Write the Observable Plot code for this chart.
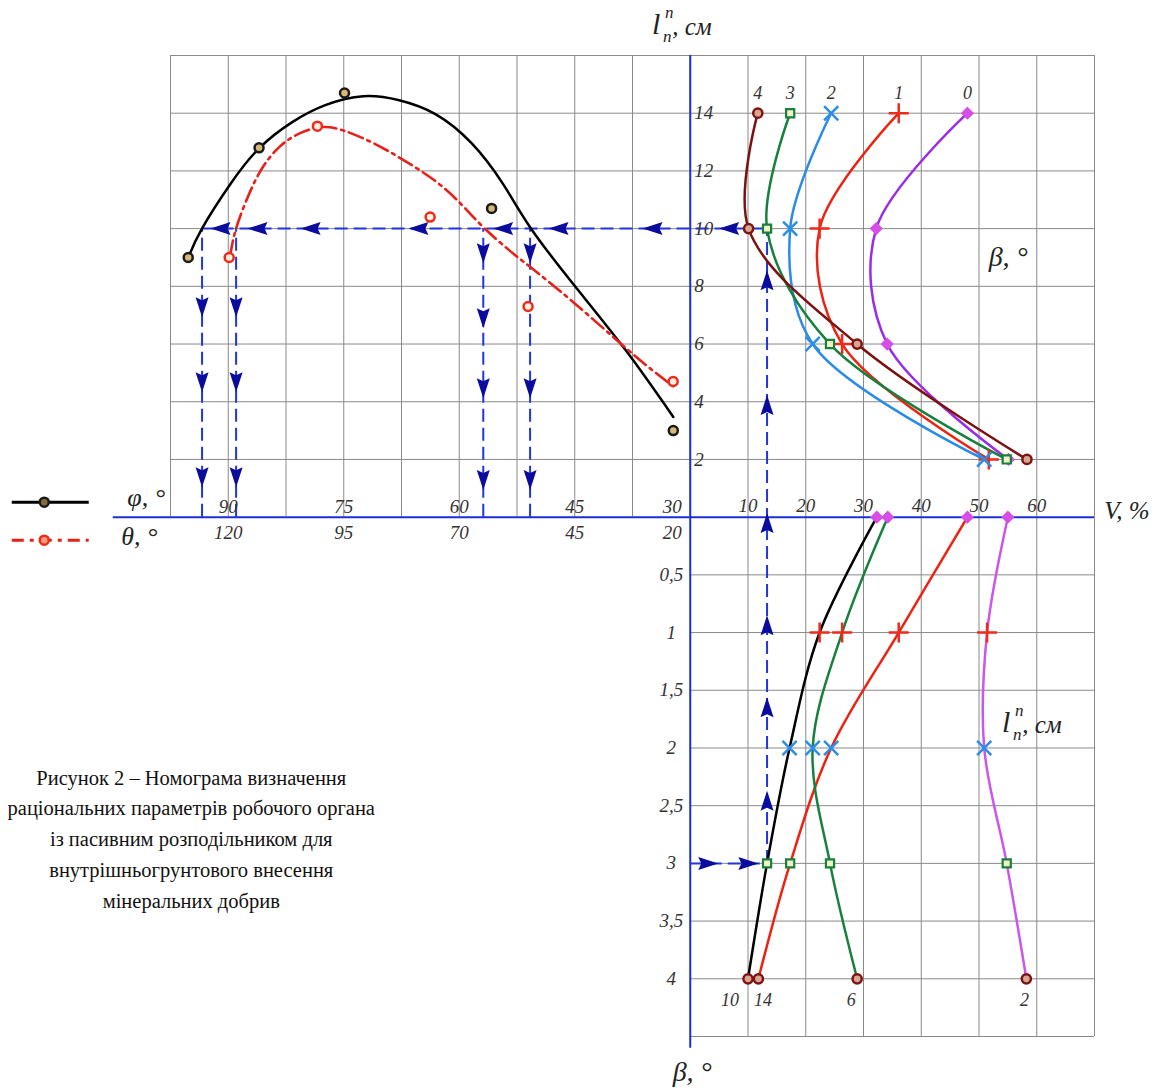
<!DOCTYPE html>
<html><head><meta charset="utf-8">
<script src="https://cdn.jsdelivr.net/npm/d3@7"></script>
<script src="https://cdn.jsdelivr.net/npm/@observablehq/plot@0.6"></script>
<style>body{margin:0;background:#fff} #chart{width:1168px;height:1090px}</style>
</head><body><div id="chart"></div>
<script>
// ---------- DATA ----------
const phiTicks = [90, 75, 60, 45, 30];
const thetaTicks = [120, 95, 70, 45, 20];
const vTicks = [10, 20, 30, 40, 50, 60];
const lUpperTicks = [2, 4, 6, 8, 10, 12, 14];
const lLowerTicks = [0.5, 1, 1.5, 2, 2.5, 3, 3.5, 4];
const lLowerTickLabels = ["0,5", "1", "1,5", "2", "2,5", "3", "3,5", "4"];

// upper-left: experimental points
const phiPointPhi = [95.2, 86.0, 74.9, 55.8, 32.2];
const phiPointL   = [9.0, 12.8, 14.7, 10.7, 3.0];
const thetaPointTheta = [119.8, 100.7, 76.3, 55.1, 23.7];
const thetaPointL     = [9.0, 13.55, 10.4, 7.3, 4.7];
// upper-left: fitted curves
const phiCurvePhi = [95.07, 93.38, 89.74, 85.97, 81.69, 77.40, 72.47, 67.8, 63.1, 58.4, 54.3, 50.8, 45.2, 38.4, 32.2];
const phiCurveL   = [9.08, 10.02, 11.54, 12.79, 13.69, 14.28, 14.59, 14.45, 13.97, 12.96, 11.54, 10.05, 8.08, 5.79, 3.47];
const thetaCurveTheta = [119.57, 118.27, 115.67, 112.64, 108.74, 104.42, 99.65, 94.68, 88.18, 81.69, 75.19, 69.78, 64.80, 58.96, 54.63, 45.32, 33.64, 27.14, 23.68];
const thetaCurveL     = [9.08, 10.02, 11.13, 12.10, 12.86, 13.31, 13.52, 13.38, 12.93, 12.34, 11.65, 10.88, 10.05, 9.22, 8.67, 7.45, 5.82, 4.96, 4.54];

// upper-right: V (%) at l = 14, 10, 6, 2 for curves 0..4
const curveLabels = ["0", "1", "2", "3", "4"];
const lLevels = [14, 10, 6, 2];
const vCurve0 = [48.0, 32.2, 34.1, 55.1];
const vCurve1 = [36.1, 22.4, 26.3, 51.7];
const vCurve2 = [24.4, 17.3, 21.2, 50.9];
const vCurve3 = [17.3, 13.3, 24.2, 54.8];
const vCurve4 = [11.7, 10.1, 28.9, 58.3];

// lower-right: V (%) at lower scale 0..4 for beta = 10, 14, 6, 2
const betaLabels = ["10", "14", "6", "2"];
const lLowerLevels = [0, 1, 2, 3, 4];
const vBeta10 = [32.3, 22.4, 17.2, 13.3, 10.0];
const vBeta14 = [48.0, 36.1, 24.4, 17.3, 11.8];
const vBeta6  = [34.2, 26.3, 21.2, 24.2, 28.9];
const vBeta2  = [55.0, 51.4, 50.9, 54.8, 58.2];

// guide (blue dashed) construction
const guideL = 10, guideV = 13.3, guideLowerL = 3;
const guidePhi = [93.4, 50.8];
const guideTheta = [118.3, 64.8];
const arrowLeftPhi = [92.3, 87.5, 80.6, 66.6, 55.6, 48.4, 36.2];
const arrowLeftV = [5.0];
const arrowDownA = [6.93, 4.33, 1.04];
const arrowDownB = [8.8, 6.55, 4.12, 0.94];
const arrowDownC = [8.8, 4.12, 0.94];
const arrowUpUpper = [8.56, 4.23, 0.14];
const arrowUpLower = [0.85, 1.56, 2.37];
const arrowRightV = [4.85, 11.8];

const caption = "Рисунок 2 – Номограма визначення\nраціональних параметрів робочого органа\nіз пасивним розподільником для\nвнутрішньогрунтового внесення\nмінеральних добрив";

// ---------- SCALE HELPERS (grid-cell frame) ----------
const cx = {phi: p => (30 - p) / 7.5, theta: t => (20 - t) / 12.5, v: v => v / 10};
const cyU = l => l / 2, cyL = l => -2 * l;
const px = x => (x - 690) / 57.75, py = y => (517 - y) / 57.7;

const arrow = (dx, dy) => ({draw(ctx) {
  const L = 20, W = 6.5, nx = -dy, ny = dx;
  ctx.moveTo(0, 0);
  ctx.lineTo(-dx * L + nx * W, -dy * L + ny * W);
  ctx.lineTo(-dx * L * 0.85, -dy * L * 0.85);
  ctx.lineTo(-dx * L - nx * W, -dy * L - ny * W);
  ctx.closePath();
}});
const aDown = arrow(0, 1), aUp = arrow(0, -1), aLeft = arrow(-1, 0), aRight = arrow(1, 0);

const GRID = "#8a8a8a", AXIS = "#1c2fd6", GUIDE = "#2036e0", ARROW = "#0b0b9e";
const guideDash = "13,6";
const it = {fontStyle: "italic", fontFamily: "Liberation Serif", fill: "#333"};

const upperCurves = [vCurve0, vCurve1, vCurve2, vCurve3, vCurve4];
const upperColors = ["#9a2be6", "#ee2211", "#2b8ce8", "#17803d", "#7b1111"];
const markers = [
  {symbol: "diamond2", fill: "#d64ee6", stroke: "#d64ee6", r: 5, strokeWidth: 1.5},
  {symbol: "plus", fill: "none", stroke: "#ee2a1a", r: 6.5, strokeWidth: 2.5},
  {symbol: "times", fill: "none", stroke: "#2a8ee8", r: 6.5, strokeWidth: 2.5},
  {symbol: "square", fill: "#f4f1c8", stroke: "#17803d", r: 4.6, strokeWidth: 2.2},
  {symbol: "circle", fill: "#d8a690", stroke: "#7d1414", r: 4.6, strokeWidth: 2.5}
];
const lowerCurves = [vBeta10, vBeta14, vBeta6, vBeta2];
const lowerColors = ["#000000", "#ee2211", "#17803d", "#cc55ee"];
const betaLabelShift = [-0.31, 0.08, -0.1, -0.03];

const marks = [];
// grid
marks.push(
  Plot.ruleX(d3.range(-9, 8), {y1: 0, y2: 8, stroke: GRID, strokeWidth: 1}),
  Plot.ruleY(d3.range(1, 9), {x1: -9, x2: 7, stroke: GRID, strokeWidth: 1}),
  Plot.ruleX(d3.range(1, 8), {y1: 0, y2: -9, stroke: GRID, strokeWidth: 1}),
  Plot.ruleY(d3.range(-9, 0), {x1: 0, x2: 7, stroke: GRID, strokeWidth: 1})
);
// guides
marks.push(
  Plot.ruleY([guideL], {y: cyU, x1: cx.phi(guidePhi[0]), x2: cx.v(guideV), stroke: GUIDE, strokeWidth: 2, strokeDasharray: guideDash}),
  Plot.ruleX(guidePhi.map(cx.phi).concat(guideTheta.map(cx.theta)), {y1: 0, y2: cyU(guideL), stroke: GUIDE, strokeWidth: 2, strokeDasharray: guideDash}),
  Plot.ruleX([guideV], {x: cx.v, y1: cyL(guideLowerL), y2: cyU(guideL), stroke: GUIDE, strokeWidth: 2, strokeDasharray: guideDash}),
  Plot.ruleY([guideLowerL], {y: cyL, x1: 0, x2: cx.v(guideV), stroke: GUIDE, strokeWidth: 2, strokeDasharray: guideDash})
);
// axes
marks.push(
  Plot.ruleY([0], {x1: px(113), x2: 7, stroke: AXIS, strokeWidth: 2}),
  Plot.ruleX([0], {y1: 8, y2: py(1048), stroke: AXIS, strokeWidth: 2})
);
// arrows
marks.push(
  Plot.dot(arrowLeftPhi, {x: cx.phi, y: cyU(guideL), symbol: aLeft, fill: ARROW, stroke: "none"}),
  Plot.dot(arrowLeftV, {x: cx.v, y: cyU(guideL), symbol: aLeft, fill: ARROW, stroke: "none"}),
  Plot.dot(arrowDownA, {x: cx.phi(guidePhi[0]), y: cyU, symbol: aDown, fill: ARROW, stroke: "none"}),
  Plot.dot(arrowDownA, {x: cx.theta(guideTheta[0]), y: cyU, symbol: aDown, fill: ARROW, stroke: "none"}),
  Plot.dot(arrowDownB, {x: cx.theta(guideTheta[1]), y: cyU, symbol: aDown, fill: ARROW, stroke: "none"}),
  Plot.dot(arrowDownC, {x: cx.phi(guidePhi[1]), y: cyU, symbol: aDown, fill: ARROW, stroke: "none"}),
  Plot.dot(arrowUpUpper, {x: cx.v(guideV), y: cyU, symbol: aUp, fill: ARROW, stroke: "none"}),
  Plot.dot(arrowUpLower, {x: cx.v(guideV), y: cyL, symbol: aUp, fill: ARROW, stroke: "none"}),
  Plot.dot(arrowRightV, {x: cx.v, y: cyL(guideLowerL), symbol: aRight, fill: ARROW, stroke: "none"})
);
// upper-left curves & points
marks.push(
  Plot.line(phiCurvePhi, {x: cx.phi, y: (d, i) => cyU(phiCurveL[i]), curve: "natural", stroke: "#000", strokeWidth: 2.5}),
  Plot.line(thetaCurveTheta, {x: cx.theta, y: (d, i) => cyU(thetaCurveL[i]), curve: "natural", stroke: "#e8201a", strokeWidth: 2.6, strokeDasharray: "15,5,3,5"}),
  Plot.dot(phiPointPhi, {x: cx.phi, y: (d, i) => cyU(phiPointL[i]), r: 4.5, stroke: "#1a1a1a", strokeWidth: 2.5, fill: "#d8b878"}),
  Plot.dot(thetaPointTheta, {x: cx.theta, y: (d, i) => cyU(thetaPointL[i]), r: 4.5, stroke: "#ee2a1a", strokeWidth: 2.5, fill: "#fff0e0"})
);
// upper-right curves
upperCurves.forEach((vals, k) => {
  marks.push(Plot.line(vals, {x: cx.v, y: (d, i) => cyU(lLevels[i]), curve: "catmull-rom", stroke: upperColors[k], strokeWidth: 2.5}));
});
upperCurves.forEach((vals, k) => {
  marks.push(Plot.dot(vals, {x: cx.v, y: (d, i) => cyU(lLevels[i]), ...markers[k]}));
});
marks.push(Plot.text(curveLabels, {x: (d, i) => cx.v(upperCurves[i][0]), y: cyU(lLevels[0]), dy: -20, text: d => d, fontSize: 18, ...it}));
// lower-right curves
lowerCurves.forEach((vals, k) => {
  marks.push(Plot.line(vals, {x: cx.v, y: (d, i) => cyL(lLowerLevels[i]), curve: "catmull-rom", stroke: lowerColors[k], strokeWidth: 2.5}));
});
lowerCurves.forEach(vals => {
  lLowerLevels.forEach((l, j) => {
    marks.push(Plot.dot([vals[j]], {x: cx.v, y: cyL(l), ...markers[j]}));
  });
});
marks.push(Plot.text(betaLabels, {x: (d, i) => cx.v(lowerCurves[i][4]) + betaLabelShift[i], y: cyL(4), dy: 21, text: d => d, fontSize: 18, ...it}));

// tick labels
marks.push(
  Plot.text(phiTicks.slice(0, -1), {x: cx.phi, y: 0, dy: -10, text: String, fontSize: 19, ...it}),
  Plot.text(phiTicks.slice(-1), {x: cx.phi, y: 0, dy: -10, dx: -18, text: String, fontSize: 19, ...it}),
  Plot.text(thetaTicks.slice(0, -1), {x: cx.theta, y: 0, dy: 16, text: String, fontSize: 19, ...it}),
  Plot.text(thetaTicks.slice(-1), {x: cx.theta, y: 0, dy: 16, dx: -18, text: String, fontSize: 19, ...it}),
  Plot.text(vTicks, {x: cx.v, y: 0, dy: -11, text: String, fontSize: 19, ...it}),
  Plot.text(lUpperTicks, {x: 0, y: cyU, dx: 4, textAnchor: "start", text: String, fontSize: 19, ...it}),
  Plot.text(lLowerTicks, {x: 0, y: cyL, dx: -19, text: (d, i) => lLowerTickLabels[i], fontSize: 19, ...it})
);

// axis titles
function lnTitle(x0, y0) {
  const T = {...it, fill: "#222"};
  return [
    Plot.text(["l"], {x: px(x0 + 4), y: py(y0 + 24), text: d => d, fontSize: 30, ...T}),
    Plot.text(["n"], {x: px(x0 + 17), y: py(y0 + 12), text: d => d, fontSize: 17, ...T}),
    Plot.text(["n"], {x: px(x0 + 15), y: py(y0 + 36), text: d => d, fontSize: 17, ...T}),
    Plot.text([", см"], {x: px(x0 + 20), y: py(y0 + 27), textAnchor: "start", text: d => d, fontSize: 25, ...T})
  ];
}
marks.push(...lnTitle(652, 0), ...lnTitle(1002, 698));
marks.push(
  Plot.text(["β, °"], {x: px(1008), y: py(257), text: d => d, fontSize: 28, ...it, fill: "#222"}),
  Plot.text(["β, °"], {x: px(692), y: py(1072), text: d => d, fontSize: 28, ...it, fill: "#222"}),
  Plot.text(["V, %"], {x: px(1104), y: py(511), textAnchor: "start", text: d => d, fontSize: 25, ...it, fill: "#222"}),
  Plot.text(["φ, °"], {x: px(127), y: py(498), textAnchor: "start", text: d => d, fontSize: 26, ...it, fill: "#222"}),
  Plot.text(["θ, °"], {x: px(121), y: py(537), textAnchor: "start", text: d => d, fontSize: 26, ...it, fill: "#222"})
);
// legend
marks.push(
  Plot.ruleY([py(502)], {x1: px(12), x2: px(89), stroke: "#000", strokeWidth: 3}),
  Plot.ruleY([py(540)], {x1: px(12), x2: px(89), stroke: "#e8201a", strokeWidth: 3, strokeDasharray: "12,6,4,6"}),
  Plot.dot([py(502)], {x: px(44), y: d => d, r: 4.5, stroke: "#1a1a1a", strokeWidth: 2.5, fill: "#8a6a3a"}),
  Plot.dot([py(540)], {x: px(44), y: d => d, r: 4.5, stroke: "#ee2a1a", strokeWidth: 2.5, fill: "#ff9a7a"})
);
// caption
marks.push(Plot.text([caption], {x: px(191), y: py(836), text: d => d, fontSize: 20.5, lineHeight: 1.5, fontFamily: "Liberation Serif", fill: "#111"}));

const chart = Plot.plot({
  width: 1168, height: 1090,
  marginTop: 0, marginRight: 0, marginBottom: 0, marginLeft: 0,
  x: {domain: [-9, 7], range: [170, 1094], axis: null},
  y: {domain: [8, -9], range: [55, 1036], axis: null},
  style: {fontFamily: "Liberation Serif", background: "#fff", overflow: "visible"},
  marks
});
document.getElementById("chart").appendChild(chart);
</script>
</body></html>
